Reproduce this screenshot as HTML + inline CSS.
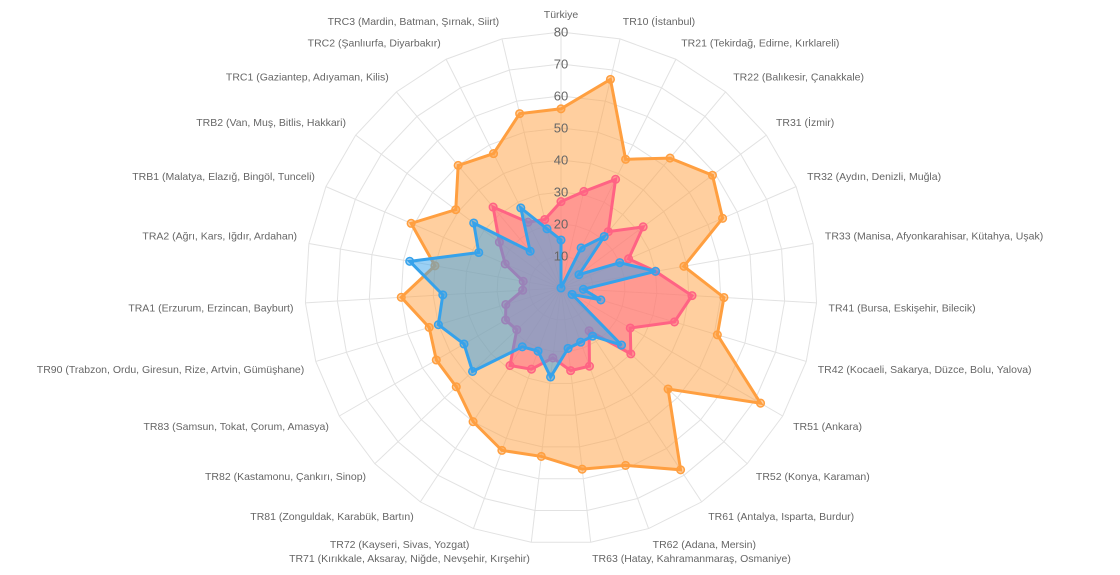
<!DOCTYPE html>
<html><head><meta charset="utf-8">
<style>
html,body{margin:0;padding:0;background:#fff;}
svg{display:block;font-family:"Liberation Sans",Arial,sans-serif;}
</style></head>
<body>
<svg id="chart" width="1120" height="575" viewBox="0 0 1120 575" xmlns="http://www.w3.org/2000/svg"></svg>
<script>
const labels = ["Türkiye","TR10 (İstanbul)","TR21 (Tekirdağ, Edirne, Kırklareli)","TR22 (Balıkesir, Çanakkale)","TR31 (İzmir)","TR32 (Aydın, Denizli, Muğla)","TR33 (Manisa, Afyonkarahisar, Kütahya, Uşak)","TR41 (Bursa, Eskişehir, Bilecik)","TR42 (Kocaeli, Sakarya, Düzce, Bolu, Yalova)","TR51 (Ankara)","TR52 (Konya, Karaman)","TR61 (Antalya, Isparta, Burdur)","TR62 (Adana, Mersin)","TR63 (Hatay, Kahramanmaraş, Osmaniye)","TR71 (Kırıkkale, Aksaray, Niğde, Nevşehir, Kırşehir)","TR72 (Kayseri, Sivas, Yozgat)","TR81 (Zonguldak, Karabük, Bartın)","TR82 (Kastamonu, Çankırı, Sinop)","TR83 (Samsun, Tokat, Çorum, Amasya)","TR90 (Trabzon, Ordu, Giresun, Rize, Artvin, Gümüşhane)","TRA1 (Erzurum, Erzincan, Bayburt)","TRA2 (Ağrı, Kars, Iğdır, Ardahan)","TRB1 (Malatya, Elazığ, Bingöl, Tunceli)","TRB2 (Van, Muş, Bitlis, Hakkari)","TRC1 (Gaziantep, Adıyaman, Kilis)","TRC2 (Şanlıurfa, Diyarbakır)","TRC3 (Mardin, Batman, Şırnak, Siirt)"];
const seriesOrange = [56,67,45,53,59,55,39,51,51,72,46,68,59,57,53,54,50,45,45,43,50,40,51,41,50,47,56];
const seriesPink = [27,31,38,23,32,23,30,41,37,25,30,16,26,26,22,27,29,19,20,18,12,12,19,24,33,23,22];
const seriesBlue = [15,0,14,21,7,20,30,7,13,4,26,18,18,19,28,21,22,38,35,40,37,48,28,34,15,28,19];
const tickValues = [10,20,30,40,50,60,70,80];

const svg = document.getElementById('chart');
const NS = 'http://www.w3.org/2000/svg';
const cx = 561, cy = 288, R = 256, maxV = 80;
const N = labels.length;
function ang(i){ return i*2*Math.PI/N; }
function pt(i, v){ const r = v/maxV*R, a = ang(i); return [cx + r*Math.sin(a), cy - r*Math.cos(a)]; }
function mk(tag, attrs, parent){ const e = document.createElementNS(NS, tag); for (const k in attrs) e.setAttribute(k, attrs[k]); (parent||svg).appendChild(e); return e; }

const grid = mk('g', {});


tickValues.forEach(t => {
  const p = [];
  for (let i=0;i<N;i++) p.push(pt(i,t).join(','));
  const g = mk('polygon', {points: p.join(' '), fill:'none', stroke:'#e2e2e2', 'stroke-width':1}, grid);
  
  
});
for (let i=0;i<N;i++){
  const [x,y] = pt(i,maxV);
  const l = mk('line', {x1:cx, y1:cy, x2:x, y2:y, stroke:'#e2e2e2', 'stroke-width':1}, grid);
  
  
}

const series = [
  {name:'orange', data:seriesOrange, c:'255,159,64'},
  {name:'pink', data:seriesPink, c:'255,99,132'},
  {name:'blue', data:seriesBlue, c:'54,162,235'}
];
series.forEach(s => {
  const g = mk('g', {});
  
  
  const pts = s.data.map((v,i)=>pt(i,v));
  const poly = mk('polygon', {points: pts.map(p=>p.join(',')).join(' '), fill:'rgba('+s.c+',0.5)', stroke:'rgb('+s.c+')', 'stroke-width':3, 'stroke-linejoin':'miter'}, g);
  
  
  pts.forEach((p,i) => {
    const c = mk('circle', {cx:p[0], cy:p[1], r:3.8, fill:'rgba('+s.c+',0.5)', stroke:'rgb('+s.c+')', 'stroke-width':1.5}, g);
    
    
  });
});

const ticks = mk('g', {});


tickValues.forEach(t => {
  const [x,y] = pt(0,t);
  const tx = mk('text', {x:x, y:y+4.5, 'text-anchor':'middle', 'font-size':13, fill:'#666'}, ticks);
  tx.textContent = t;
  
  
});

const lg = mk('g', {});


labels.forEach((lab,i) => {
  const a = ang(i), deg = i*360/N, r = R+12;
  const x = cx + r*Math.sin(a), y = cy - r*Math.cos(a);
  let anchor = 'start';
  if (deg === 0 || Math.abs(deg-180) < 0.01) anchor = 'middle';
  else if (deg > 180) anchor = 'end';
  let yy;
  if (deg < 90 || deg > 270) yy = y - 2;
  else yy = y + 8;
  const t = mk('text', {x:x, y:yy, 'text-anchor':anchor, 'font-size':10.5, fill:'#666'}, lg);
  t.textContent = lab;
  
  
});
</script>
</body></html>
